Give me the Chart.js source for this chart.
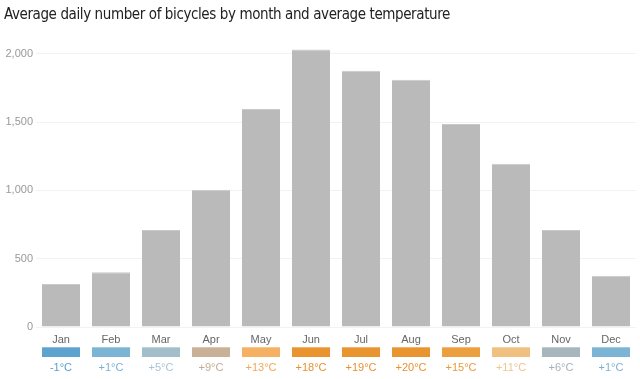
<!DOCTYPE html>
<html>
<head>
<meta charset="utf-8">
<script src="https://cdn.jsdelivr.net/npm/chart.js@4/dist/chart.umd.min.js"></script>
<style>
  html, body { margin: 0; padding: 0; background: #fff; }
  #wrap { width: 640px; height: 379px; position: relative; }
</style>
</head>
<body>
<div id="wrap"><canvas id="c" width="640" height="379"></canvas></div>
<script>
const months = ['Jan','Feb','Mar','Apr','May','Jun','Jul','Aug','Sep','Oct','Nov','Dec'];
const bicycles = [315, 400, 710, 1005, 1595, 2030, 1875, 1810, 1485, 1195, 710, 375];
const temperatures = [-1, 1, 5, 9, 13, 18, 19, 20, 15, 11, 6, 1];
const swatchColors = ['#5ca3cd','#7cb4d6','#a4bdcb','#c9b197','#f6b063','#ea9430','#ea9430','#ea9430','#ec9f3f','#f0c081','#a7b5bd','#7cb4d6'];
const tempTextColors = ['#5a9fcb','#7ab2d6','#a9c4d3','#c4ab92','#f2a855','#e89131','#e8912f','#e8912f','#eb9a3a','#f2c48e','#a3b2bb','#7ab2d6'];
const yTicks = [0, 500, 1000, 1500, 2000];
const titleText = 'Average daily number of bicycles by month and average temperature';

const titlePlugin = {
  id: 'customTitle',
  afterDraw(chart) {
    const ctx = chart.ctx;
    ctx.save();
    ctx.font = '15px "DejaVu Sans Condensed", "Liberation Sans Narrow", sans-serif';
    if ('letterSpacing' in ctx) ctx.letterSpacing = '-0.4px';
    ctx.fillStyle = '#222';
    ctx.textAlign = 'left';
    ctx.textBaseline = 'alphabetic';
    ctx.fillText(titleText, 4, 18.5);
    ctx.restore();
  }
};

const tempPlugin = {
  id: 'tempSwatches',
  afterDraw(chart) {
    const ctx = chart.ctx;
    const meta = chart.getDatasetMeta(0);
    const xs = chart.scales.x;
    ctx.save();
    temperatures.forEach((t, i) => {
      const cx = xs.getPixelForValue(i);
      const w = meta.data[i].width;
      const x0 = Math.round(cx - w / 2);
      ctx.fillStyle = swatchColors[i];
      ctx.fillRect(x0, 347, Math.round(w), 10);
      ctx.fillStyle = 'rgba(255,255,255,0.3)';
      ctx.fillRect(x0, 347, Math.round(w), 1);
      ctx.fillStyle = tempTextColors[i];
      ctx.font = '11px "Liberation Sans", Arial, sans-serif';
      ctx.textAlign = 'center';
      ctx.textBaseline = 'middle';
      const label = (t > 0 ? '+' : (t < 0 ? '-' : '')) + Math.abs(t) + '°C';
      ctx.fillText(label, cx, 367.5);
    });
    ctx.restore();
  }
};

new Chart(document.getElementById('c'), {
  type: 'bar',
  data: {
    labels: months,
    datasets: [{
      data: bicycles,
      backgroundColor: '#bababa',
      borderColor: '#c9c9c9',
      borderWidth: { top: 1, left: 0, right: 0, bottom: 0 },
      borderSkipped: 'bottom',
      categoryPercentage: 1,
      barPercentage: 0.76
    }]
  },
  options: {
    responsive: false,
    animation: false,
    devicePixelRatio: 1,
    layout: { padding: { left: 4, right: 4, top: 40, bottom: 0 } },
    plugins: {
      legend: { display: false },
      tooltip: { enabled: false },
      title: { display: false }
    },
    scales: {
      x: {
        grid: { display: false, drawTicks: false },
        border: { display: false },
        ticks: {
          color: '#666',
          font: { family: '"Liberation Sans", Arial, sans-serif', size: 11 },
          padding: 6,
          maxRotation: 0
        },
        afterFit(axis) { axis.height = 52; }
      },
      y: {
        min: 0,
        max: 2100,
        grid: { color: '#f2f2f2', drawTicks: false },
        border: { display: false },
        ticks: {
          stepSize: 500,
          color: '#999',
          font: { family: '"Liberation Sans", Arial, sans-serif', size: 11 },
          padding: 3,
          callback: (v) => v.toLocaleString('en-US')
        },
        afterBuildTicks(axis) {
          axis.ticks = yTicks.map(v => ({ value: v }));
        },
        afterFit(axis) { axis.width = 32; }
      }
    }
  },
  plugins: [titlePlugin, tempPlugin]
});
</script>
</body>
</html>
